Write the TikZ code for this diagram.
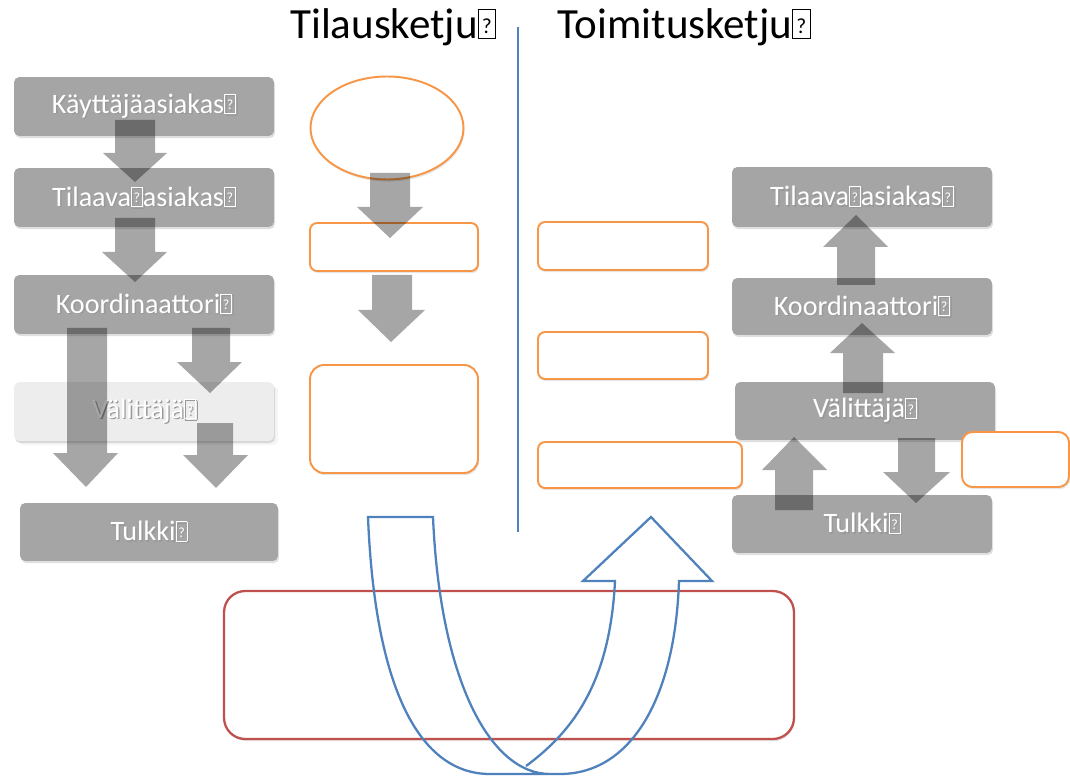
\documentclass[tikz,border=0pt]{standalone}
\usepackage{fontspec}
\setmainfont{Carlito}
\usetikzlibrary{shapes.geometric,shadows}

\definecolor{boxgrey}{HTML}{A5A5A5}
\definecolor{palegrey}{HTML}{EDEDED}
\definecolor{chainorange}{HTML}{F79646}
\definecolor{chainblue}{HTML}{4F81BD}
\definecolor{chainred}{HTML}{C0504D}

% missing glyph box
\newcommand{\nobox}{{\setlength\fboxsep{0pt}\setlength\fboxrule{0.4pt}%
  \framebox[0.42em][c]{\rule{0pt}{0.66em}\raisebox{0.12em}{\scalebox{0.5}{?}}}}}
% white label with a soft grey shadow
\newcommand{\shtext}[1]{\makebox[0pt][l]{\kern0.8pt\raisebox{-0.8pt}{\color{black!40}#1}}{\color{white}#1}}
% block arrow: shaft #1--#2 from y #3, head #4--#5 at y #6, tip (#7,#8)
\newcommand{\blockarrow}[8]{%
  \fill[arrowgrey] (#1,#3) -- (#2,#3) -- (#2,#6) -- (#5,#6) -- (#7,#8) -- (#4,#6) -- (#1,#6) -- cycle;}

\tikzset{
  greybox/.style={rectangle, rounded corners=3pt, fill=boxgrey, inner sep=0pt,
    minimum width=5.2cm, minimum height=1.18cm, font=\fontsize{16}{18}\selectfont,
    drop shadow={opacity=0.25, shadow xshift=0.6pt, shadow yshift=-1.2pt}},
  palebox/.style={greybox, fill=palegrey, drop shadow={opacity=0.08}},
  arrowgrey/.style={fill=black, fill opacity=0.35},
  chainbox/.style={rectangle, draw=chainorange, line width=1.1pt, fill=white,
    rounded corners=4pt, minimum width=3.36cm, minimum height=0.96cm,
    drop shadow={opacity=0.2, shadow xshift=0.6pt, shadow yshift=-1.2pt}},
  title/.style={font=\fontsize{24.5}{28}\selectfont},
  uturn/.style={draw=chainblue, line width=1.3pt, line join=miter},
}

\begin{document}
\begin{tikzpicture}[x=0.02cm, y=-0.02cm]
\useasboundingbox (0,0) rectangle (1070,776);

% titles and divider
\node[title] (tilaus) at (393,27) {Tilausketju\nobox};
\node[title] (toimitus) at (684,27) {Toimitusketju\nobox};
\draw[chainblue, line width=1.1pt] (518,27) -- (518,532);

% left chain
\node[greybox] (kayL) at (144,106.5) {\shtext{Käyttäjäasiakas\nobox}};
\node[greybox] (tilL) at (144,197.5) {\shtext{Tilaava\nobox asiakas\nobox}};
\node[greybox] (koorL) at (144,304.5) {\shtext{Koordinaattori\nobox}};
\node[palebox] (valL) at (144,411.5) {\shtext{Välittäjä\nobox}};
\node[greybox, minimum width=5.16cm, minimum height=1.16cm] (tulL) at (149,532) {\shtext{Tulkki\nobox}};

\blockarrow{115}{155}{120}{103}{167}{153}{135}{182}
\blockarrow{115}{155}{218}{102}{167}{252}{135}{282}
\blockarrow{67}{107}{328}{53}{118}{453}{86}{487}
\blockarrow{192}{230}{328}{177}{242}{362}{210}{393}
\blockarrow{197}{233}{423}{183}{248}{455}{216}{488}

% middle shapes
\node[ellipse, draw=chainorange, line width=1.1pt, fill=white, minimum width=3.06cm,
  minimum height=2.06cm, drop shadow={opacity=0.2, shadow xshift=0.6pt, shadow yshift=-1.2pt}] (ell) at (387,128) {};
\node[chainbox] (o1) at (394,247) {};
\node[chainbox, minimum height=2.16cm, rounded corners=8pt] (o2) at (394,419) {};

\node[chainbox, minimum width=3.4cm] (r1) at (623,246) {};
\node[chainbox, minimum width=3.4cm, minimum height=0.94cm] (r2) at (623,355.5) {};
\node[chainbox, minimum width=4.08cm, minimum height=0.92cm] (r3) at (640,465) {};

\blockarrow{370}{410}{173}{357}{423}{207}{390}{238}
\blockarrow{372}{412}{275}{358}{425}{310}{391}{342}

% right chain
\node[greybox, minimum height=1.2cm] (tilR) at (862,197) {\shtext{Tilaava\nobox asiakas\nobox}};
\node[greybox, minimum height=1.14cm] (koorR) at (862,306.5) {\shtext{Koordinaattori\nobox}};
\node[greybox, minimum height=1.16cm] (valR) at (865,411) {\shtext{Välittäjä\nobox}};
\node[greybox, minimum height=1.16cm] (tulR) at (862,524) {\shtext{Tulkki\nobox}};

\blockarrow{837}{875}{285}{823}{888}{247}{856}{215}
\blockarrow{843}{883}{393}{830}{895}{353}{862}{323}
\blockarrow{775}{813}{510}{762}{827}{470}{794}{437}
\blockarrow{898}{935}{438}{883}{950}{472}{916}{503}

\node[chainbox, minimum width=2.14cm, minimum height=1.1cm, rounded corners=6pt] (r4) at (1015.5,459.5) {};

% bottom box and u-turn
\node[rectangle, draw=chainred, line width=1.3pt, fill=white, rounded corners=12pt,
  minimum width=11.4cm, minimum height=2.96cm,
  drop shadow={opacity=0.2, shadow xshift=0.6pt, shadow yshift=-1.2pt}] (kierto) at (509,665) {};

\draw[uturn] (526,766) .. controls (575,730) and (610,680) .. (615,581)
  -- (583,581) -- (651,517) -- (712,581) -- (679,581)
  .. controls (675,700) and (630,774) .. (560,774) -- (490,774)
  .. controls (420,774) and (375,690) .. (368,517) -- (433,517)
  .. controls (440,680) and (490,774) .. (550,774);

\end{tikzpicture}
\end{document}
